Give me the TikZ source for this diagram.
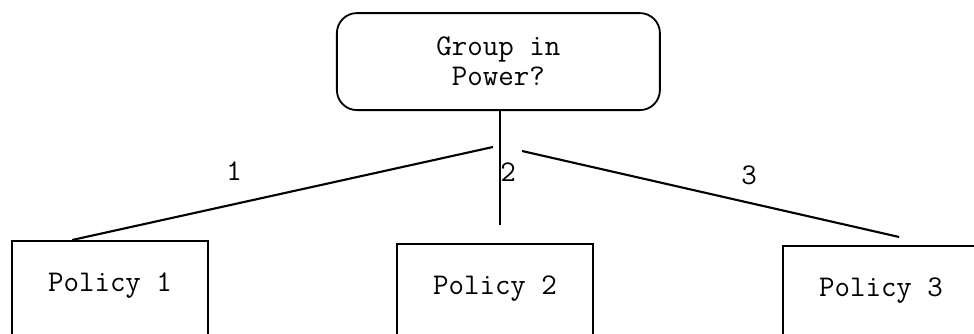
\documentclass[tikz,border=0pt]{standalone}
\usepackage{amsmath}

\begin{document}
\begin{tikzpicture}[
    every node/.style={font=\ttfamily\fontsize{21.4}{21.3}\selectfont},
    policybox/.style={draw, rectangle, line width=1.2pt, anchor=north, inner sep=0pt,
      minimum width=4.9cm, text height=1.275cm, text depth=2cm},
    branch/.style={line width=1.5pt}
  ]
          \useasboundingbox (0, 0) rectangle (24.35, 8.35);

          % Decision node
          \node[draw, rectangle, rounded corners=0.5cm, line width=1.3pt, align=center,
                minimum width=8.075cm, minimum height=2.425cm] (G) at (12.46, 6.81) {Group in\\Power?};

          % Nodes for policies
          \node[policybox] (P1) at (2.75, 2.35) {Policy 1};
          \node[policybox] (P2) at (12.375, 2.275) {Policy 2};
          \node[policybox] (P3) at (22.025, 2.225) {Policy 3};

          % Branch points
          \coordinate (S) at (12.5, 2.725);
          \coordinate (F1) at (12.325, 4.675);
          \coordinate (F3) at (13.05, 4.575);

          % Branch labels
          \node (L1) at (5.85, 4.075) {1};
          \node (L2) at (12.7, 4.05) {2};
          \node (L3) at (18.725, 3.975) {3};

          % Edges
          \draw [branch] (G.south -| S) -- (S);
          \draw [branch] (F1) -- ([xshift=1.525cm]P1.north west);
          \draw [branch] (F3) -- ([xshift=2.925cm, yshift=0.2cm]P3.north west);
        \end{tikzpicture}
\end{document}
